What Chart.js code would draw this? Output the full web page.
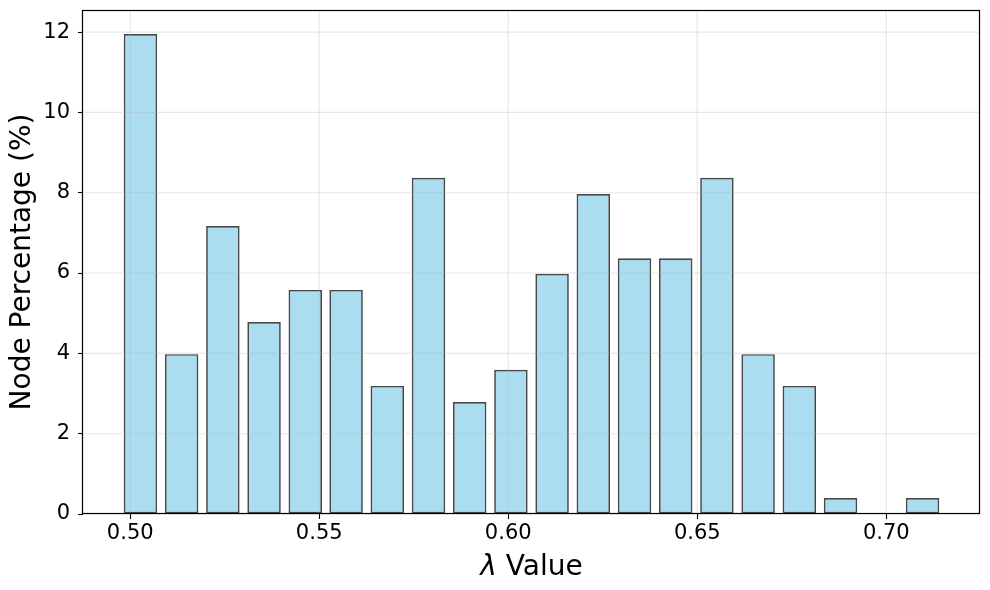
<!DOCTYPE html>
<html>
<head>
<meta charset="utf-8">
<script src="https://cdn.jsdelivr.net/npm/chart.js@4.4.1/dist/chart.umd.min.js"></script>
<style>
  html, body { margin: 0; padding: 0; background: #fff; }
  #wrap { width: 990px; height: 590px; }
</style>
</head>
<body>
<div id="wrap"><canvas id="histChart" width="990" height="590"></canvas></div>
<script>
// histogram bins (centres) and bar heights in %
const binCenters = [0.5027, 0.5136, 0.5245, 0.5354, 0.5463, 0.5571, 0.5680, 0.5789, 0.5898, 0.6007,
                    0.6116, 0.6225, 0.6334, 0.6443, 0.6552, 0.6661, 0.6770, 0.6879, 0.6988, 0.7096];
const nodePercent = [11.95, 3.98, 7.17, 4.78, 5.58, 5.58, 3.19, 8.37, 2.79, 3.59,
                     5.98, 7.97, 6.37, 6.37, 8.37, 3.98, 3.19, 0.40, 0, 0.40];
const xTicks = [0.50, 0.55, 0.60, 0.65, 0.70];
const yTicks = [0, 2, 4, 6, 8, 10, 12];
const xTitleSymbol = 'λ';
const xTitleText = ' Value';
const yTitle = 'Node Percentage (%)';

const FONT = '"DejaVu Sans", sans-serif';

// matplotlib draws the grid above the bars, plus a full frame
const overlay = {
  id: 'overlay',
  afterDatasetsDraw(chart) {
    const { ctx, chartArea: a, scales: { x, y } } = chart;
    ctx.save();
    ctx.strokeStyle = 'rgba(176,176,176,0.3)';
    ctx.lineWidth = 1.1;
    xTicks.forEach(v => {
      const px = x.getPixelForValue(v);
      ctx.beginPath(); ctx.moveTo(px, a.top); ctx.lineTo(px, a.bottom); ctx.stroke();
    });
    yTicks.forEach(v => {
      const py = y.getPixelForValue(v);
      ctx.beginPath(); ctx.moveTo(a.left, py); ctx.lineTo(a.right, py); ctx.stroke();
    });
    ctx.restore();
  },
  afterDraw(chart) {
    const { ctx, chartArea: a } = chart;
    ctx.save();
    ctx.strokeStyle = '#000';
    ctx.lineWidth = 1.2;
    const l = Math.round(a.left) - 0.5, t = Math.round(a.top) + 0.5;
    const r = Math.round(a.right) - 0.5, b = Math.round(a.bottom) - 0.5;
    ctx.strokeRect(l, t, r - l, b - t);

    // x title with italic lambda
    ctx.fillStyle = '#000';
    ctx.textBaseline = 'alphabetic';
    ctx.font = 'italic 28px ' + FONT;
    const w1 = ctx.measureText(xTitleSymbol).width;
    ctx.font = '28px ' + FONT;
    const w2 = ctx.measureText(xTitleText).width;
    const x0 = (a.left + a.right) / 2 - (w1 + w2) / 2;
    ctx.textAlign = 'left';
    ctx.font = 'italic 28px ' + FONT;
    ctx.fillText(xTitleSymbol, x0, 575);
    ctx.font = '28px ' + FONT;
    ctx.fillText(xTitleText, x0 + w1, 575);
    ctx.restore();
  }
};

new Chart(document.getElementById('histChart'), {
  type: 'bar',
  data: {
    datasets: [{
      data: binCenters.map((c, i) => ({ x: c, y: nodePercent[i] })),
      backgroundColor: 'rgba(135,206,235,0.7)',
      borderColor: 'rgba(0,0,0,0.72)',
      borderWidth: 1.7,
      borderSkipped: false,
      categoryPercentage: 1.0,
      barPercentage: 0.82
    }]
  },
  options: {
    responsive: false,
    animation: false,
    layout: { padding: { left: 0, right: 10, top: 10, bottom: 0 } },
    plugins: { legend: { display: false }, tooltip: { enabled: false } },
    scales: {
      x: {
        type: 'linear',
        min: 0.4875,
        max: 0.7248,
        offset: false,
        afterBuildTicks: s => { s.ticks = xTicks.map(v => ({ value: v })); },
        afterFit: s => { s.height = 76; s.paddingLeft = 0; s.paddingRight = 0; },
        border: { display: false },
        grid: { offset: false, drawOnChartArea: false, drawTicks: true, tickLength: 5, tickColor: '#000', tickWidth: 1.1 },
        ticks: {
          color: '#000',
          font: { family: FONT, size: 21 },
          padding: 2,
          maxRotation: 0,
          autoSkip: false,
          callback: v => v.toFixed(2)
        }
      },
      y: {
        min: 0,
        max: 12.55,
        afterBuildTicks: s => { s.ticks = yTicks.map(v => ({ value: v })); },
        afterFit: s => { s.width = 83; s.paddingTop = 0; s.paddingBottom = 0; },
        border: { display: false },
        grid: { drawOnChartArea: false, drawTicks: true, tickLength: 5, tickColor: '#000', tickWidth: 1.1 },
        ticks: {
          color: '#000',
          font: { family: FONT, size: 21 },
          padding: 8,
          callback: v => String(v)
        },
        title: {
          display: true,
          text: yTitle,
          color: '#000',
          font: { family: FONT, size: 28 },
          padding: { top: 6, bottom: 0 }
        }
      }
    }
  },
  plugins: [overlay]
});
</script>
</body>
</html>
